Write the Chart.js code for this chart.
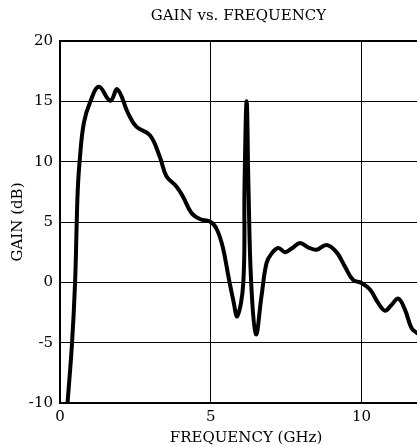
<!DOCTYPE html>
<html>
<head>
<meta charset="utf-8">
<script src="https://cdn.jsdelivr.net/npm/chart.js@4/dist/chart.umd.min.js"></script>
<style>body{margin:0;background:#fff;overflow:hidden}</style>
</head>
<body>
<canvas id="GainChartHTML" width="417" height="447"></canvas>
<script>
//												Data
const FREQ=[0.25,0.40,0.50,0.555,0.59,0.65,0.79,1.01,1.29,1.67,1.90,2.26,2.53,2.98,3.31,3.53,3.86,4.08,4.36,4.64,5.00,5.20,5.40,5.60,5.74,5.88,6.08,6.12,6.19,6.25,6.34,6.50,6.68,6.85,7.02,7.24,7.46,7.68,7.96,8.23,8.51,8.84,9.17,9.45,9.72,10.0,10.28,10.55,10.78,11.0,11.22,11.44,11.66,11.84]
const GAIN=[-10,-5,0,5,7.7,10,13.2,15.0,16.2,15.05,16.0,14.0,12.9,12.2,10.4,8.8,7.95,7.1,5.75,5.25,5.0,4.4,2.9,0.3,-1.4,-2.8,0,8,15,8,0,-4.3,-1.2,1.6,2.4,2.85,2.5,2.8,3.26,2.9,2.7,3.1,2.5,1.3,0.2,-0.05,-0.6,-1.7,-2.35,-1.85,-1.35,-2.26,-3.8,-4.2]
const XTICKS=[0,5,10]
const YMIN=-10,YMAX=20,XMAX=11.84

const SERIF="'DejaVu Serif', serif"

//												Chart
let GainChart=new Chart(document.getElementById('GainChartHTML'),{
	type:'line',
	data:{datasets:[{
		data:FREQ.map((f,i)=>({x:f,y:GAIN[i]})),
		borderColor:'#000',borderWidth:4,pointRadius:0,
		tension:0.4,borderJoinStyle:'round',borderCapStyle:'round'
	}]},
	options:{
		responsive:false,animation:false,
		layout:{padding:0},
		plugins:{
			legend:{display:false},tooltip:{enabled:false},
			title:{display:true,fullSize:false,text:'GAIN vs. FREQUENCY',color:'#000',font:{family:SERIF,size:15,weight:'normal'},padding:{top:7,bottom:16}}
		},
		scales:{
			x:{type:'linear',min:0,max:XMAX,
				afterBuildTicks:a=>{a.ticks=XTICKS.map(v=>({value:v}))},
				afterFit:a=>{a.height=44},
				grid:{color:'#000',lineWidth:1,drawTicks:false},
				border:{color:'#000',width:2},
				ticks:{color:'#000',padding:5,maxRotation:0,font:{family:SERIF,size:15}},
				title:{display:true,text:'\u2003FREQUENCY (GHz)',color:'#000',font:{family:SERIF,size:15},padding:{top:0,bottom:0}}
			},
			y:{min:YMIN,max:YMAX,
				afterFit:a=>{a.width=60},
				grid:{color:'#000',lineWidth:c=>c.tick&&c.tick.value==YMAX?2:1,drawTicks:false},
				border:{color:'#000',width:2},
				ticks:{stepSize:5,color:'#000',padding:7,font:{family:SERIF,size:15}},
				title:{display:true,text:'GAIN (dB)',color:'#000',font:{family:SERIF,size:15},padding:{top:9,bottom:0}}
			}
		}
	}
})
</script>
</body>
</html>
